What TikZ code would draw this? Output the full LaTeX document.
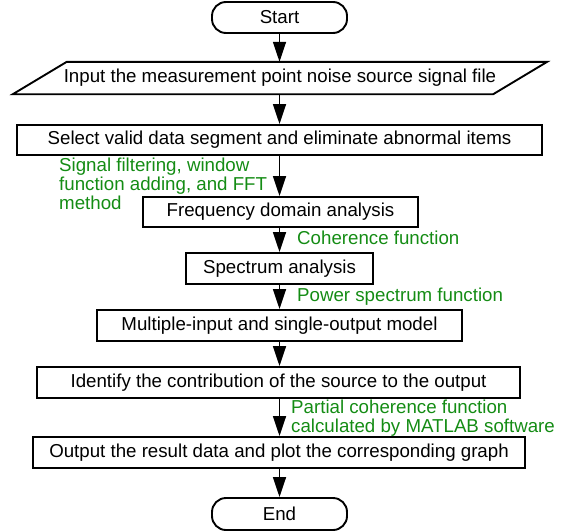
\documentclass[tikz,border=0pt]{standalone}
\usepackage{fontspec}
\setmainfont{Liberation Sans}
\usetikzlibrary{arrows.meta,calc}
\definecolor{lblgreen}{RGB}{20,140,20}
\begin{document}
\begin{tikzpicture}[x=1pt,y=-1pt,
  box/.style={draw,line width=1.9pt,minimum height=31pt,inner sep=0pt,font=\fontsize{18.7}{19}\selectfont},
  term/.style={box,rounded corners=14pt},
  plain/.style={inner sep=0pt,minimum height=32pt,font=\fontsize{18.7}{19}\selectfont},
  arr/.style={line width=1.7pt,-{Triangle[length=20pt,width=13pt]}},
  lbl/.style={text=lblgreen,font=\fontsize{18.7}{19}\selectfont,inner sep=0pt,anchor=west,align=left}]
\useasboundingbox (0,0) rectangle (567,530);
\node[term,minimum width=135pt] (start) at (279.5,17.5) {Start};
\node[plain,minimum width=480pt] (input) at (280,78) {Input the measurement point noise source signal file};
\draw[line width=1.9pt] ($(input.north west)+(27,0)$) -- ($(input.north east)+(27,0)$) -- ($(input.south east)+(-27,0)$) -- ($(input.south west)+(-27,0)$) -- cycle;
\node[box,minimum width=525pt,minimum height=30pt] (select) at (279.5,140) {Select valid data segment and eliminate abnormal items};
\node[box,minimum width=275pt,minimum height=30pt] (freq) at (280.5,212) {Frequency domain analysis};
\node[box,minimum width=187pt] (spec) at (279.5,268.5) {Spectrum analysis};
\node[box,minimum width=365pt] (mimo) at (279.5,325.5) {Multiple-input and single-output model};
\node[box,minimum width=483pt] (ident) at (278.5,382.5) {Identify the contribution of the source to the output};
\node[box,minimum width=492pt] (outp) at (279,452.5) {Output the result data and plot the corresponding graph};
\node[term,minimum width=135pt,minimum height=32pt] (endn) at (279.5,514) {End};
\draw[arr] (start.south -| select.south) -- (select.south |- input.north);
\draw[arr] (input.south -| select.south) -- (select.south |- select.north);
\draw[arr] (select.south) -- (select.south |- freq.north);
\draw[arr] (freq.south -| select.south) -- (select.south |- spec.north);
\draw[arr] (spec.south -| select.south) -- (select.south |- mimo.north);
\draw[arr] (mimo.south -| select.south) -- (select.south |- ident.north);
\draw[arr] (ident.south -| select.south) -- (select.south |- outp.north);
\draw[arr] (outp.south -| select.south) -- (select.south |- endn.north);
\node[lbl] (l1) at (59,184) {Signal filtering, window\\function adding, and FFT\\method};
\node[lbl] (l2) at (297,238) {Coherence function};
\node[lbl] (l3) at (297,297) {Power spectrum function};
\node[lbl] (l4) at (291,418) {Partial coherence function\\calculated by MATLAB software};
\end{tikzpicture}
\end{document}
